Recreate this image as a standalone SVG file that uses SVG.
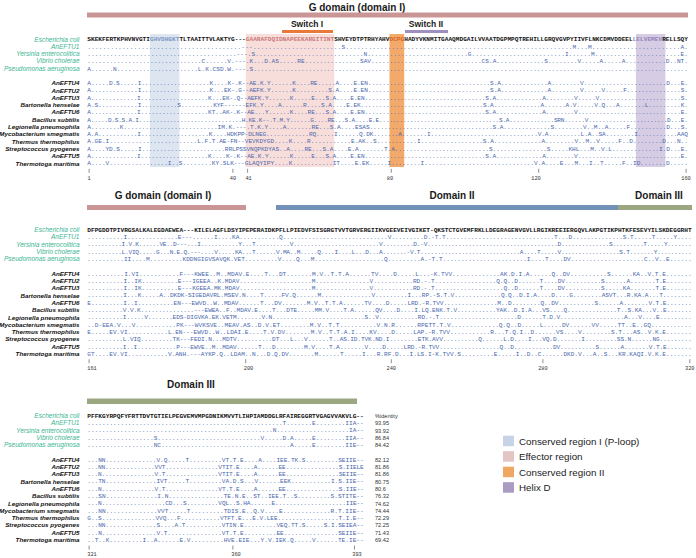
<svg xmlns="http://www.w3.org/2000/svg" width="696" height="558" viewBox="0 0 696 558">
<style>
.s{font-family:"Liberation Mono","DejaVu Sans Mono",monospace;font-size:6.14px;fill:#4a68ad}
.e{font-family:"Liberation Mono","DejaVu Sans Mono",monospace;font-size:6.14px;fill:#111;font-weight:bold}
.hb{fill:#7f97c4}.hp{fill:#c97a7a}.ho{fill:#d9661f}.hd{fill:#9584b8}
.ng{font-family:"Liberation Sans",Arial,sans-serif;font-size:6.5px;font-style:italic;fill:#3cb594;text-anchor:end}
.nb{font-family:"Liberation Sans",Arial,sans-serif;font-size:6.25px;font-style:italic;font-weight:bold;fill:#111;text-anchor:end}
.t{font-family:"Liberation Sans",Arial,sans-serif;font-size:10px;font-weight:bold;fill:#1a1a1a;text-anchor:middle}
.sw{font-family:"Liberation Sans",Arial,sans-serif;font-size:8.5px;font-weight:bold;fill:#1a1a1a;text-anchor:middle}
.num{font-family:"Liberation Mono",monospace;font-size:5.3px;fill:#333;text-anchor:middle}
.tick{stroke:#444;stroke-width:0.6}
.pct{font-family:"Liberation Sans",Arial,sans-serif;font-size:5.6px;fill:#333}
.lg{font-family:"Liberation Sans",Arial,sans-serif;font-size:9.8px;fill:#222}
</style>

<g id="block1">
<text class="t" x="357" y="10.5">G domain (domain I)</text>
<rect x="87" y="12.5" width="601" height="5" fill="#c99595"/>
<text class="sw" x="307" y="27">Switch I</text>
<rect x="282" y="30" width="51" height="3" fill="#e9793b"/>
<text class="sw" x="426" y="27">Switch II</text>
<rect x="405" y="30" width="43" height="3" fill="#9d8fc0"/>
<rect x="149.9" y="34" width="29.5" height="133" fill="#dde5f0"/>
<rect x="245.8" y="34" width="88.4" height="133" fill="#f8dedb"/>
<rect x="389.5" y="34" width="14.7" height="133" fill="#f2a96a"/>
<rect x="635.9" y="34" width="29.5" height="133" fill="#d6cce4"/>

<text class="ng" x="79.5" y="41.5">Escherichia coli</text>
<text class="ng" x="79.5" y="48.8">AnEFTU1</text>
<text class="ng" x="79.5" y="56.1">Yersinia enterocolitica</text>
<text class="ng" x="79.5" y="63.4">Vibrio cholerae</text>
<text class="ng" x="79.5" y="70.7">Pseudomonas aeruginosa</text>
<text class="nb" x="79.5" y="85.2">AnEFTU4</text>
<text class="nb" x="79.5" y="92.5">AnEFTU2</text>
<text class="nb" x="79.5" y="99.8">AnEFTU3</text>
<text class="nb" x="79.5" y="107.1">Bartonella henselae</text>
<text class="nb" x="79.5" y="114.4">AnEFTU6</text>
<text class="nb" x="79.5" y="121.7">Bacillus subtilis</text>
<text class="nb" x="79.5" y="129">Legionella pneumophila</text>
<text class="nb" x="79.5" y="136.3">Mycobacterium smegmatis</text>
<text class="nb" x="79.5" y="143.6">Thermus thermophilus</text>
<text class="nb" x="79.5" y="150.9">Streptococcus pyogenes</text>
<text class="nb" x="79.5" y="158.2">AnEFTU5</text>
<text class="nb" x="79.5" y="165.5">Thermotoga maritima</text>

<text class="e" x="87.3" y="41.3" textLength="600.66" lengthAdjust="spacing">SKEKFERTKPHVNVGTI<tspan class="hb">GHVDHGKT</tspan>TLTAAITTVLAKTYG---<tspan class="hp">GAARAFDQIDNAPEEKARGITINT</tspan>SHVEYDTPTRHYAHV<tspan class="ho">DCPG</tspan>HADYVKNMITGAAQMDGAILVVAATDGPMPQTREHILLGRQVGVPYIIVFLNKCDMVDDEEL<tspan class="hd">LELVEMEV</tspan>RELLSQY</text>
<text class="s" x="87.3" y="48.6" textLength="600.66" lengthAdjust="spacing">........................................---.......................S...........................................................M...M.......................A.</text>
<text class="s" x="87.3" y="55.9" textLength="600.66" lengthAdjust="spacing">........................................---.S.............................N...........................G.........................I......M.......................E.</text>
<text class="s" x="87.3" y="63.2" textLength="600.66" lengthAdjust="spacing">...............................C......V.---.K...D.AS.....RE...............SAV..............................CS.A.............S........V.....A.....A...........D..NT.</text>
<text class="s" x="87.3" y="70.5" textLength="600.66" lengthAdjust="spacing">A......N......................L.K.CSD.W.---.S......................................................................................................................</text>
<text class="s" x="87.3" y="85" textLength="600.66" lengthAdjust="spacing">A.....D.S.....I...................K....K-.K--AE.K.Y......K....RE.....A....E.EN..................................S.A.............A........V.......................D...E.</text>
<text class="s" x="87.3" y="92.3" textLength="600.66" lengthAdjust="spacing">A.............I...................K...EK-.G--AEFK.Y......K.........S.A....E.EN..................................S.A.............A........V.....V.....F...............S.</text>
<text class="s" x="87.3" y="99.6" textLength="600.66" lengthAdjust="spacing">A.............I...................K...EK-.Q--AEFK.Y......K.....E...S.A....E.EN..................................S.A.............A........V.....V.......................S.</text>
<text class="s" x="87.3" y="106.9" textLength="600.66" lengthAdjust="spacing">A.S...........I..........S.........KYF------EFK.Y....A......R....S.A....E.EK..................................S.A.............A......A.V.....V.Q...A.......L.........K.</text>
<text class="s" x="87.3" y="114.2" textLength="600.66" lengthAdjust="spacing">A.............I...................KT..AK-.K--AE...Y......K....RE...S.A....E.EN..................................S.A.............A........V.............................E.</text>
<text class="s" x="87.3" y="121.5" textLength="600.66" lengthAdjust="spacing">A.....D.S.S.A.I..............................H.KE.K--.T.M.Y......G....RE...S.A....E.E...................................S.A.............SRN......V.......................D...E.</text>
<text class="s" x="87.3" y="128.8" textLength="600.66" lengthAdjust="spacing">A........K..........................IM.K.---.T.K.Y....A.......RE...S.A....ESAS..................................S.A.............S........V..M..A.....F..........D...S.</text>
<text class="s" x="87.3" y="136.1" textLength="600.66" lengthAdjust="spacing">A.A...........I...................K....HDKPP-DLNEG............RQ.....I......Q.DK.......A.......I..............................V.A.........L.A..SA........I...........AAQ</text>
<text class="s" x="87.3" y="143.4" textLength="600.66" lengthAdjust="spacing">A.GE.I........................L.F.T.AE-FN--VEVKDYGD....K....R...........E.AK..S...........I.................S.A.............A........V..M..V.....F..D........D...N..</text>
<text class="s" x="87.3" y="150.7" textLength="600.66" lengthAdjust="spacing">A....YD.S.....I.......................RRLPSSVNQPKDYAS..A....RE...S.A....E.A.......T.A..........................S...............S.....KHL...M..V.L.............I.D...E.</text>
<text class="s" x="87.3" y="158" textLength="600.66" lengthAdjust="spacing">A.............I...................K....K-.K--AE.K.Y......K.....E...S.A....E.EN..................................S.A.............A........V.............................E.</text>
<text class="s" x="87.3" y="165.3" textLength="600.66" lengthAdjust="spacing">A....V................I..S........KY.SLK---GLAQYIPY....K...........IT....E.EK.....I........I..............................V.A....E...M...I..T.....F..ID.......D.....</text>

<line class="tick" x1="89.1" y1="168.8" x2="89.1" y2="172.8"/>
<line class="tick" x1="232.9" y1="168.8" x2="232.9" y2="172.8"/>
<line class="tick" x1="247.6" y1="168.8" x2="247.6" y2="172.8"/>
<line class="tick" x1="391.3" y1="168.8" x2="391.3" y2="172.8"/>
<line class="tick" x1="538.7" y1="168.8" x2="538.7" y2="172.8"/>
<line class="tick" x1="686.1" y1="168.8" x2="686.1" y2="172.8"/>
<text class="num" x="89.1" y="179.5">1</text>
<text class="num" x="232.9" y="179.5">40</text>
<text class="num" x="248.6" y="179.5">41</text>
<text class="num" x="390" y="179.5">80</text>
<text class="num" x="536" y="179.5">120</text>
<text class="num" x="686" y="179.5">160</text>
</g>

<g id="block2">
<text class="t" x="163" y="199">G domain (domain I)</text>
<text class="t" x="452" y="199">Domain II</text>
<text class="t" x="659" y="199">Domain III</text>
<rect x="87" y="205" width="159" height="5" fill="#c99595"/>
<rect x="276" y="205" width="342" height="5" fill="#7391b7"/>
<rect x="618" y="205" width="74" height="5" fill="#9aa780"/>

<text class="ng" x="79.5" y="232">Escherichia coli</text>
<text class="ng" x="79.5" y="239.3">AnEFTU1</text>
<text class="ng" x="79.5" y="246.6">Yersinia enterocolitica</text>
<text class="ng" x="79.5" y="253.9">Vibrio cholerae</text>
<text class="ng" x="79.5" y="261.2">Pseudomonas aeruginosa</text>
<text class="nb" x="79.5" y="275.7">AnEFTU4</text>
<text class="nb" x="79.5" y="283">AnEFTU2</text>
<text class="nb" x="79.5" y="290.3">AnEFTU3</text>
<text class="nb" x="79.5" y="297.6">Bartonella henselae</text>
<text class="nb" x="79.5" y="304.9">AnEFTU6</text>
<text class="nb" x="79.5" y="312.2">Bacillus subtilis</text>
<text class="nb" x="79.5" y="319.5">Legionella pneumophila</text>
<text class="nb" x="79.5" y="326.8">Mycobacterium smegmatis</text>
<text class="nb" x="79.5" y="334.1">Thermus thermophilus</text>
<text class="nb" x="79.5" y="341.4">Streptococcus pyogenes</text>
<text class="nb" x="79.5" y="348.7">AnEFTU5</text>
<text class="nb" x="79.5" y="356">Thermotoga maritima</text>

<text class="e" x="87.3" y="231.8" textLength="604.34" lengthAdjust="spacing">DFPGDDTPIVRGSALKALEGDAEWEA---KILELAGFLDSYIPEPERAIDKPFLLPIEDVFSISGRGTVVTGRVERGIIKVGEEVEIVGIKET-QKSTCTGVEMFRKLLDEGRAGENVGVLLRGIKREEIERGQVLAKPGTIKPHTKFESEVYILSKDEGGRHT</text>
<text class="s" x="87.3" y="239.1" textLength="604.34" lengthAdjust="spacing">..........I..............E---......I....KA...........Q.............................V.........D.-T.T..............................T...D..............S.T.....T.....Y....</text>
<text class="s" x="87.3" y="246.4" textLength="604.34" lengthAdjust="spacing">..........I.V.K......VE..D---...I...........Y...T..........V.........................V.........D.-V......................................D..............S.........T.....Y.......</text>
<text class="s" x="87.3" y="253.7" textLength="604.34" lengthAdjust="spacing">..........L.VIQ.....G...N.E.Q.---....V.....KA...T......V.MA..M.....Q....I....L...D...A.......-V.T.............................A....T.....V.................S.T.......Y..........</text>
<text class="s" x="87.3" y="261" textLength="604.34" lengthAdjust="spacing">..........II....M.........KDDNGIGVSAVQK.VET.........V....Q...M...................Q.........A.-T.T.......................I....T....DV....................C..V..E......</text>
<text class="s" x="87.3" y="275.5" textLength="604.34" lengthAdjust="spacing">..........I.VI...........F---KWEE..M..MDAV.E....T...DT.......M.V..T.T.A......TV....D.....L...-K.TVV.............AK.D.I.A......Q..DV..........S......KA..V.T.E.......</text>
<text class="s" x="87.3" y="282.8" textLength="604.34" lengthAdjust="spacing">..........I..IK..........E---IGEEA..K.MDAV....................M...............V...........RD.-.T.................Q.Q..D......T....DV..........S......A.......T.E.......</text>
<text class="s" x="87.3" y="290.1" textLength="604.34" lengthAdjust="spacing">..........I..IK..........E---KGEEA.MK.MDAV....................M...............V...........RD.-.T...................Q..D......T....DV..........S.....KA.......T.E.......</text>
<text class="s" x="87.3" y="297.4" textLength="604.34" lengthAdjust="spacing">..........I...K.....A..DKDK-SIGEDAVRL.MSEV.N....T.....FV.Q......M..............V.........I...RP.-S.T.V.............Q.Q..D.I.A....D....G........ASVT...R.KA.A...T........</text>
<text class="s" x="87.3" y="304.7" textLength="604.34" lengthAdjust="spacing">E.........I..I..........EN---EWVD..W..MDAV......T...DV.......M.V..T.T.A......TV....D.....LRD.-R.TVV...............M..D........Q..DV..........S......A.......V.T.E.......</text>
<text class="s" x="87.3" y="312" textLength="604.34" lengthAdjust="spacing">..........V.V.K...............---EWEA..F..MDAV.E....T...DTE.....MM.V....T.A......QV....D....I.LQ.ENK.T.V...........YAK..D.I.A...VS....Q..............T..S.KA...V..E.......</text>
<text class="s" x="87.3" y="319.3" textLength="604.34" lengthAdjust="spacing">..........I.....V.......EDS-DIGVKA.EK.VETM.......V.N..........................S..V...........RD.-.T......................D......T.D.V..................A...V....E.........</text>
<text class="s" x="87.3" y="326.6" textLength="604.34" lengthAdjust="spacing">..D-EEA.V...V...........PK---WVKSVE..MEAV.AS..D.V.ET........M.V..T.T..........V.N.R......RPETT.T.V.............Q.Q..D.....L.....DV......VV.....TT..E..GQ...........</text>
<text class="s" x="87.3" y="333.9" textLength="604.34" lengthAdjust="spacing">E.....EV.VI...........L.EN---EWVD..W..LDAI.E....T.V.DV.......M.V..T.T.A.I....KV....D.....LAP.-R.TVV...........R...T.Q.I..D......VS....V........S.T...AS..V.K.E.......</text>
<text class="s" x="87.3" y="341.2" textLength="604.34" lengthAdjust="spacing">..........L.VIQ.........TK---FEDI.N...MDTV..........DT...L...V......T..AS.ID.TVK.ND.I........ETK.AVV..........Q......L.D....I...VQ.D.......I.........SS.N......NG.........</text>
<text class="s" x="87.3" y="348.5" textLength="604.34" lengthAdjust="spacing">..........I..I...........P---EWVE..M..MDAV......T...D........M.V....T.A.......V....D.....LRD.-R.TVV.................Q..D...........DV..........S......A.......V.T.E.......</text>
<text class="s" x="87.3" y="355.8" textLength="604.34" lengthAdjust="spacing">GT....EV.VI...........V.ANH.---AYKP.Q..LDAM..N...D.Q.DV.......M......T.....I...R.RF.D...I.LS.I-K.TVV.S.........E.....I..D..C......DKD.V...A..S...KR.KAQI.V.K.E.......</text>

<line class="tick" x1="89.1" y1="359.2" x2="89.1" y2="363.2"/>
<line class="tick" x1="245.7" y1="359.2" x2="245.7" y2="363.2"/>
<line class="tick" x1="391.3" y1="359.2" x2="391.3" y2="363.2"/>
<line class="tick" x1="542.9" y1="359.2" x2="542.9" y2="363.2"/>
<line class="tick" x1="689.8" y1="359.2" x2="689.8" y2="363.2"/>
<text class="num" x="92" y="369.8">161</text>
<text class="num" x="248.5" y="369.8">200</text>
<text class="num" x="391.3" y="369.8">240</text>
<text class="num" x="542.9" y="369.8">280</text>
<text class="num" x="689.8" y="369.8">320</text>
</g>

<g id="block3">
<text class="t" x="191" y="387.5">Domain III</text>
<rect x="87" y="398.5" width="270" height="5.5" fill="#9aa780"/>

<text class="ng" x="79.5" y="418">Escherichia coli</text>
<text class="ng" x="79.5" y="425.3">AnEFTU1</text>
<text class="ng" x="79.5" y="432.6">Yersinia enterocolitica</text>
<text class="ng" x="79.5" y="439.9">Vibrio cholerae</text>
<text class="ng" x="79.5" y="447.2">Pseudomonas aeruginosa</text>
<text class="nb" x="79.5" y="461.7">AnEFTU4</text>
<text class="nb" x="79.5" y="469">AnEFTU2</text>
<text class="nb" x="79.5" y="476.3">AnEFTU3</text>
<text class="nb" x="79.5" y="483.6">Bartonella henselae</text>
<text class="nb" x="79.5" y="490.9">AnEFTU6</text>
<text class="nb" x="79.5" y="498.2">Bacillus subtilis</text>
<text class="nb" x="79.5" y="505.5">Legionella pneumophila</text>
<text class="nb" x="79.5" y="512.8">Mycobacterium smegmatis</text>
<text class="nb" x="79.5" y="520.1">Thermus thermophilus</text>
<text class="nb" x="79.5" y="527.4">Streptococcus pyogenes</text>
<text class="nb" x="79.5" y="534.7">AnEFTU5</text>
<text class="nb" x="79.5" y="542">Thermotoga maritima</text>

<text class="e" x="87.3" y="417.8" textLength="276.4" lengthAdjust="spacing">PFFKGYRPQFYFRTTDVTGTIELPEGVEMVMPGDNIKMVVTLIHPIAMDDGLRFAIREGGRTVGAGVVAKVLG--</text>
<text class="s" x="87.3" y="425.1" textLength="276.4" lengthAdjust="spacing">.....................................................T.......E........IIA--</text>
<text class="s" x="87.3" y="432.4" textLength="276.4" lengthAdjust="spacing">...................................................N....................IA--</text>
<text class="s" x="87.3" y="439.7" textLength="276.4" lengthAdjust="spacing">..................S............................V.....D.A.....E........IIA--</text>
<text class="s" x="87.3" y="447" textLength="276.4" lengthAdjust="spacing">..................NC...................................A.....E........IIE--</text>
<text class="s" x="87.3" y="461.5" textLength="276.4" lengthAdjust="spacing">...NN..............V.Q.....T.........VT.T.E....A....IEE.TK.S.........SEIIE--</text>
<text class="s" x="87.3" y="468.8" textLength="276.4" lengthAdjust="spacing">...NN..............VVT...............VTIT.E....A......EE...............S.IIELE</text>
<text class="s" x="87.3" y="476.1" textLength="276.4" lengthAdjust="spacing">...N...............V.T...............VTIT.E....A......EE...............SEIIE--</text>
<text class="s" x="87.3" y="483.4" textLength="276.4" lengthAdjust="spacing">...TN..............IVT.....T.........VA.D.S...V......EEK...........I.S.IIE--</text>
<text class="s" x="87.3" y="490.7" textLength="276.4" lengthAdjust="spacing">...N...............V.T...............VT.T.E....A......EE...............S.IIE--</text>
<text class="s" x="87.3" y="498" textLength="276.4" lengthAdjust="spacing">...SN..............I.N...............TE.N.E..ST..IEE.T..S.........S.STITE--</text>
<text class="s" x="87.3" y="505.3" textLength="276.4" lengthAdjust="spacing">...N..................CD...S.........VQL..S.HA......E....................IIE--</text>
<text class="s" x="87.3" y="512.6" textLength="276.4" lengthAdjust="spacing">...NN..............VVT.....T.........TDIS.E..Q.V....E.............R.T.IIE--</text>
<text class="s" x="87.3" y="519.9" textLength="276.4" lengthAdjust="spacing">G..S...............VVQ...F...........VTFT.E...E.V.LEE.................T.I.E--</text>
<text class="s" x="87.3" y="527.2" textLength="276.4" lengthAdjust="spacing">...NN..............S....A.T..........VTIN.E.........VEQ.TT.S.....S.I.SEIEA--</text>
<text class="s" x="87.3" y="534.5" textLength="276.4" lengthAdjust="spacing">...N...............V.T...............VT.T.E.........EE...............SEIIE--</text>
<text class="s" x="87.3" y="541.8" textLength="276.4" lengthAdjust="spacing">..T..K.........I..A......E.V.........HVE.EIE...Y.V.IEK.Q.....V......TE.IE--</text>

<line class="tick" x1="89.1" y1="545.6" x2="89.1" y2="549.6"/>
<line class="tick" x1="232.9" y1="545.6" x2="232.9" y2="549.6"/>
<line class="tick" x1="354.5" y1="545.6" x2="354.5" y2="549.6"/>
<text class="num" x="92" y="556.3">321</text>
<text class="num" x="236" y="556.3">360</text>
<text class="num" x="357" y="556.3">393</text>

<text class="pct" x="375" y="418">%identity</text>
<text class="pct" x="375" y="425.3">93.95</text>
<text class="pct" x="375" y="432.6">93.92</text>
<text class="pct" x="375" y="439.9">86.84</text>
<text class="pct" x="375" y="447.2">84.42</text>
<text class="pct" x="375" y="461.7">82.12</text>
<text class="pct" x="375" y="469">81.86</text>
<text class="pct" x="375" y="476.3">81.86</text>
<text class="pct" x="375" y="483.6">80.75</text>
<text class="pct" x="375" y="490.9">80.6</text>
<text class="pct" x="375" y="498.2">76.32</text>
<text class="pct" x="375" y="505.5">74.62</text>
<text class="pct" x="375" y="512.8">74.44</text>
<text class="pct" x="375" y="520.1">72.29</text>
<text class="pct" x="375" y="527.4">72.25</text>
<text class="pct" x="375" y="534.7">71.43</text>
<text class="pct" x="375" y="542">69.42</text>
</g>

<g id="legend">
<rect x="503" y="435.7" width="11" height="10.5" fill="#c7d3e7"/>
<text class="lg" x="519" y="444.6">Conserved region I (P-loop)</text>
<rect x="503" y="451.2" width="11" height="10.5" fill="#e5c4c6"/>
<text class="lg" x="519" y="460.1">Effector region</text>
<rect x="503" y="466.7" width="11" height="10.5" fill="#f0a762"/>
<text class="lg" x="519" y="475.6">Conserved region II</text>
<rect x="503" y="482.2" width="11" height="10.5" fill="#a99bc1"/>
<text class="lg" x="519" y="491.1">Helix D</text>
</g>
</svg>
